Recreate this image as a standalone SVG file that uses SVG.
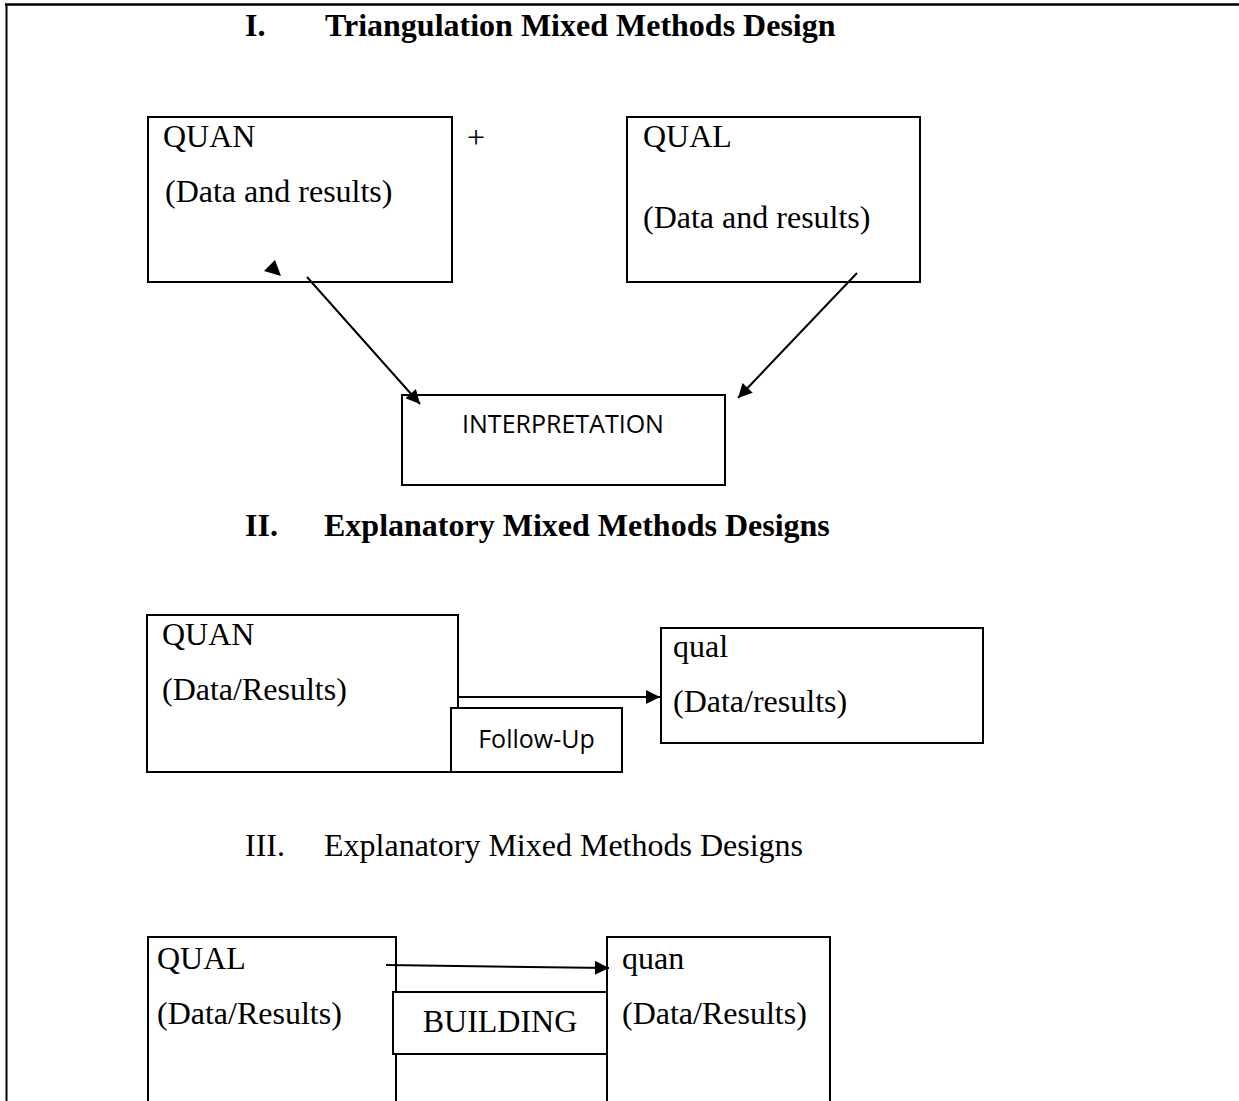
<svg xmlns="http://www.w3.org/2000/svg" width="1239" height="1101" viewBox="0 0 1239 1101">
  <style>
    .box { fill: #ffffff; stroke: #000000; stroke-width: 2; }
    .serif { font-family: "Liberation Serif", "Times New Roman", serif; font-size: 32px; fill: #000000; }
    .title { font-family: "Liberation Serif", "Times New Roman", serif; font-size: 32px; font-weight: bold; fill: #000000; }
    .sans { font-family: "Open Sans", "Liberation Sans", sans-serif; font-size: 25px; fill: #000000; }
    .edge { stroke: #000000; stroke-width: 2; fill: none; }
  </style>
  <defs>
    <marker id="arrow" viewBox="0 0 10 10" refX="10" refY="5" markerWidth="18" markerHeight="14" markerUnits="userSpaceOnUse" orient="auto">
      <path d="M0,0 L10,5 L0,10 z" fill="#000000"/>
    </marker>
  </defs>
  <rect width="1239" height="1101" fill="#ffffff"/>
  <g id="frame">
    <line x1="5" y1="4.5" x2="1239" y2="4.5" stroke="#000" stroke-width="2.5"/>
    <line x1="6.5" y1="4" x2="6.5" y2="1101" stroke="#000" stroke-width="2"/>
  </g>

  <g id="title-1">
    <text class="title" x="245" y="36">I.</text>
    <text class="title" x="325" y="36">Triangulation Mixed Methods Design</text>
  </g>
  <g id="node-quan-1">
    <rect class="box" x="148" y="117" width="304" height="165"/>
    <text class="serif" x="163" y="147">QUAN</text>
    <text class="serif" x="165" y="202">(Data and results)</text>
  </g>
  <g id="plus">
    <text class="serif" x="476" y="148" text-anchor="middle">+</text>
  </g>
  <g id="node-qual-1">
    <rect class="box" x="627" y="117" width="293" height="165"/>
    <text class="serif" x="643" y="147">QUAL</text>
    <text class="serif" x="643" y="228">(Data and results)</text>
  </g>
  <g id="node-interpretation">
    <rect class="box" x="402" y="395" width="323" height="90"/>
    <text class="sans" x="563" y="433" text-anchor="middle">INTERPRETATION</text>
  </g>

  <g id="title-2">
    <text class="title" x="245" y="536">II.</text>
    <text class="title" x="324" y="536">Explanatory Mixed Methods Designs</text>
  </g>
  <g id="node-quan-2">
    <rect class="box" x="147" y="615" width="311" height="157"/>
    <text class="serif" x="162" y="645">QUAN</text>
    <text class="serif" x="162" y="700">(Data/Results)</text>
  </g>
  <g id="node-followup">
    <rect class="box" x="451" y="708" width="171" height="64"/>
    <text class="sans" x="536.5" y="748" text-anchor="middle">Follow-Up</text>
  </g>
  <g id="node-qual-2">
    <rect class="box" x="661" y="628" width="322" height="115"/>
    <text class="serif" x="673" y="657">qual</text>
    <text class="serif" x="673" y="712">(Data/results)</text>
  </g>

  <g id="title-3">
    <text class="serif" x="245" y="856">III.</text>
    <text class="serif" x="324" y="856">Explanatory Mixed Methods Designs</text>
  </g>
  <g id="node-qual-3">
    <rect class="box" x="148" y="937" width="248" height="200"/>
    <text class="serif" x="157" y="969">QUAL</text>
    <text class="serif" x="157" y="1024">(Data/Results)</text>
  </g>
  <g id="node-quan-3">
    <rect class="box" x="607" y="937" width="223" height="200"/>
    <text class="serif" x="622" y="969">quan</text>
    <text class="serif" x="622" y="1024">(Data/Results)</text>
  </g>
  <g id="node-building">
    <rect class="box" x="393" y="992" width="214" height="62"/>
    <text class="serif" x="500" y="1032" text-anchor="middle">BUILDING</text>
  </g>

  <g id="connectors">
    <line class="edge" x1="307" y1="277" x2="420" y2="404" marker-end="url(#arrow)"/>
    <line class="edge" x1="857" y1="273" x2="738" y2="398" marker-end="url(#arrow)"/>
    <polygon points="275,260 264,271 281,276" fill="#000000"/>
    <line class="edge" x1="458" y1="697" x2="660" y2="697" marker-end="url(#arrow)"/>
    <line class="edge" x1="386" y1="965" x2="609" y2="968" marker-end="url(#arrow)"/>
  </g>
</svg>
